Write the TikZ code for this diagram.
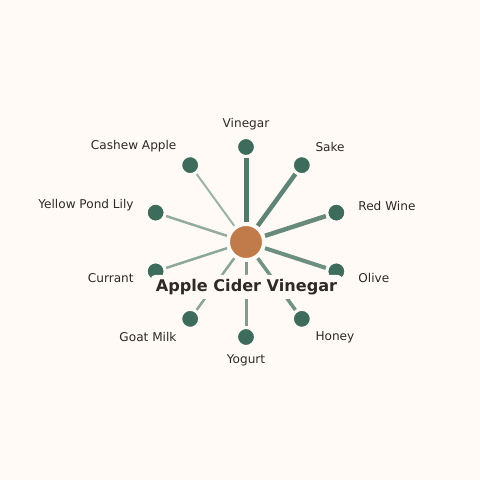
\documentclass[tikz,border=0pt]{standalone}
\usepackage{fontspec}
\setmainfont{DejaVu Sans}
\definecolor{bgcream}{HTML}{FFFAF5}
\definecolor{leafgreen}{HTML}{3D6B5C}
\definecolor{cidercopper}{HTML}{C17B4A}
\definecolor{inkdark}{HTML}{2D2A26}
\tikzset{
    hub/.style={circle, fill=cidercopper, draw=bgcream, line width=4pt, minimum size=36pt, inner sep=0pt},
    ingredient/.style={circle, fill=leafgreen, draw=bgcream, line width=3pt, minimum size=19pt, inner sep=0pt},
    tag/.style={text=inkdark, font=\fontsize{12.1}{14}\selectfont, inner sep=0pt},
    titlebox/.style={fill=bgcream, rounded corners=4pt, text=inkdark, font=\fontsize{16.1}{18}\selectfont\bfseries, inner xsep=5pt, minimum height=24pt}
}
\begin{document}
\begin{tikzpicture}[x=1pt, y=1pt]
\useasboundingbox[fill=bgcream] (0,0) rectangle (480,480);
\begin{scope}[shift={(246,238)}]
\node[hub] (cider) at (0,0) {};
\foreach \i/\a/\name/\w/\o/\side in {
    1/90/Vinegar/5/0.9/center,
    2/54/Sake/4.5/0.82/west,
    3/18/Red Wine/4.5/0.78/west,
    4/-18/Olive/4/0.75/west,
    5/-54/Honey/3.5/0.72/west,
    6/-90/Yogurt/3/0.65/center,
    7/-126/Goat Milk/2.5/0.6/east,
    8/-162/Currant/2.5/0.58/east,
    9/162/Yellow Pond Lily/2.5/0.55/east,
    10/126/Cashew Apple/2/0.5/east} {
    \node[ingredient] (n\i) at (\a:95) {};
    \draw[leafgreen, opacity=\o, line width=\w pt] (cider) -- (n\i);
    \node[tag, anchor=\side] (l\i) at (\a:118) {\name};
}
\node[titlebox] (title) at (0.5,-45) {Apple Cider Vinegar};
\end{scope}
\end{tikzpicture}
\end{document}
